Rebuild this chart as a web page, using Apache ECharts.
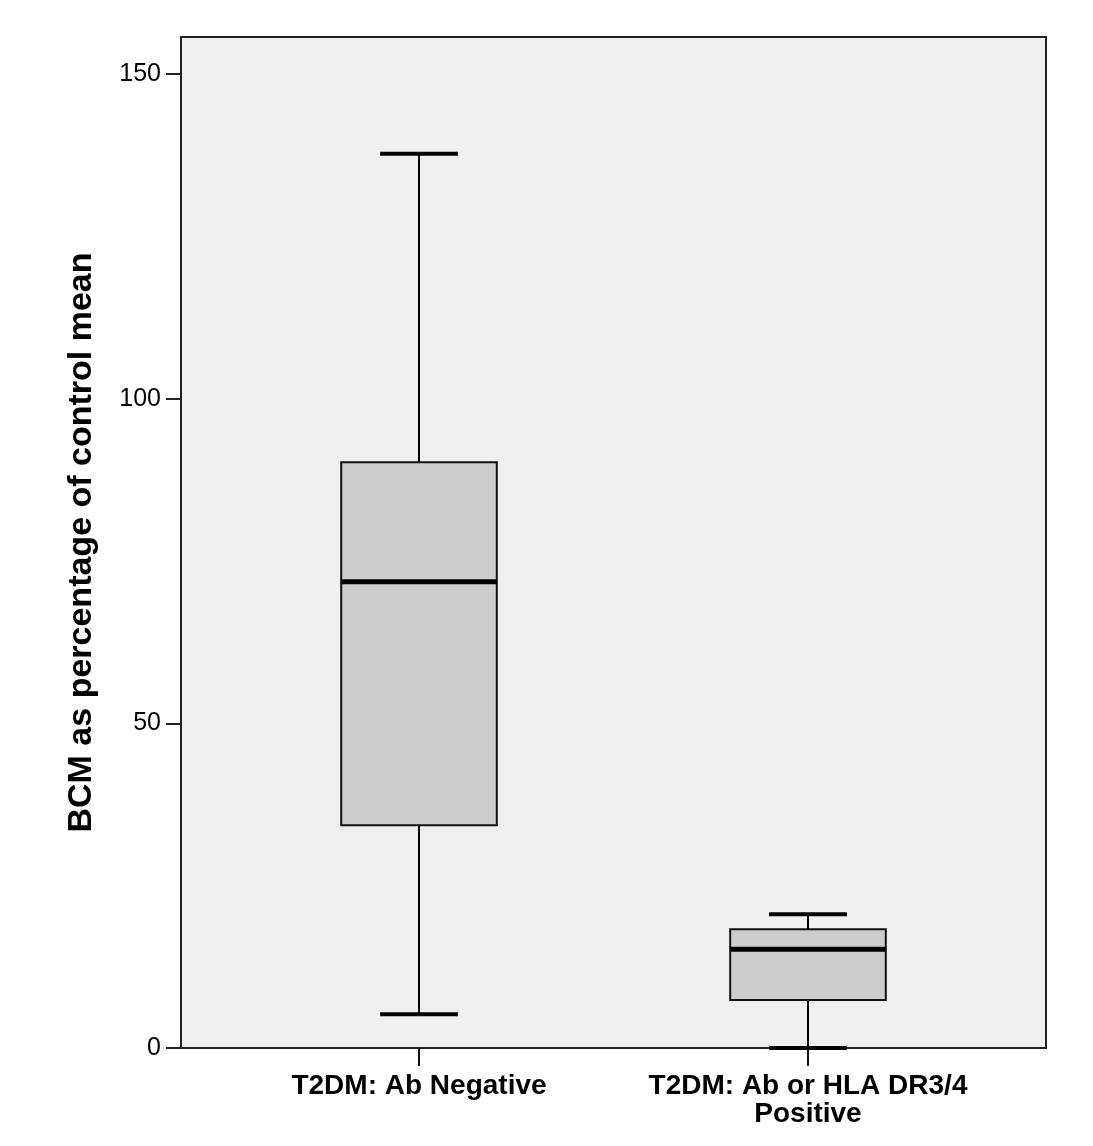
<!DOCTYPE html>
<html>
<head>
<meta charset="utf-8">
<script src="https://cdn.jsdelivr.net/npm/echarts@6/dist/echarts.min.js"></script>
<style>html,body{margin:0;padding:0;background:#fff;}#c{width:1093px;height:1146px;}</style>
</head>
<body>
<div id="c"></div>
<script>
const categories = ['T2DM: Ab Negative', 'T2DM: Ab or HLA DR3/4\nPositive'];
const whiskerLow = [5.2, 0];
const q1Values = [34.3, 7.4];
const medianValues = [71.8, 15.2];
const q3Values = [90.2, 18.3];
const whiskerHigh = [137.7, 20.6];
const yTicks = [0, 50, 100, 150];
const yTitle = 'BCM as percentage of control mean';

const chart = echarts.init(document.getElementById('c'), null, {renderer: 'canvas'});
const boxData = categories.map((c, i) => [i, whiskerLow[i], q1Values[i], medianValues[i], q3Values[i], whiskerHigh[i]]);

const option = {
  backgroundColor: '#ffffff',
  animation: false,
  grid: [
    {left: 181, right: 47, top: 37, bottom: 98, show: true, backgroundColor: '#f0f0f0', borderColor: '#222', borderWidth: 2, z: 0},
    {left: 224.5, right: 90.5, top: 74, bottom: 98, show: false}
  ],
  xAxis: [
    {gridIndex: 0, type: 'category', data: categories, show: false},
    {gridIndex: 1, type: 'category', data: categories, boundaryGap: true,
     axisLine: {show: false},
     axisTick: {show: true, alignWithLabel: true, length: 18, lineStyle: {color: '#111', width: 2}},
     axisLabel: {fontFamily: 'Liberation Sans, Arial, sans-serif', fontWeight: 'bold', fontSize: 28, color: '#000', margin: 24, lineHeight: 28, interval: 0}
    }
  ],
  yAxis: [
    {gridIndex: 0, type: 'value', min: 0, max: 1, show: true,
     name: yTitle, nameLocation: 'middle', nameGap: 82,
     nameTextStyle: {fontFamily: 'Liberation Sans, Arial, sans-serif', fontWeight: 'bold', fontSize: 34, color: '#000'},
     axisLine: {show: false}, axisTick: {show: false}, axisLabel: {show: false}, splitLine: {show: false}},
    {gridIndex: 1, type: 'value', min: yTicks[0], max: yTicks[yTicks.length - 1], interval: 50, offset: 43.5,
     axisLine: {show: false},
     axisTick: {show: true, length: 15, lineStyle: {color: '#222', width: 2}},
     axisLabel: {fontFamily: 'Liberation Sans, Arial, sans-serif', fontSize: 25, color: '#000', margin: 20},
     splitLine: {show: false}
    }
  ],
  series: [{
    type: 'custom',
    xAxisIndex: 1,
    yAxisIndex: 1,
    z: 5,
    data: boxData,
    encode: {x: 0, y: [1, 2, 3, 4, 5]},
    renderItem: function (params, api) {
      const idx = api.value(0);
      const band = api.size([1, 0])[0];
      const bw = band * 0.4;
      const cw = band * 0.2;
      const pLow = api.coord([idx, api.value(1)]);
      const pQ1 = api.coord([idx, api.value(2)]);
      const pMed = api.coord([idx, api.value(3)]);
      const pQ3 = api.coord([idx, api.value(4)]);
      const pHigh = api.coord([idx, api.value(5)]);
      const x = pQ1[0];
      const line = (x1, y1, x2, y2, w) => ({type: 'line', shape: {x1, y1, x2, y2}, style: {stroke: '#000', lineWidth: w}});
      return {type: 'group', children: [
        line(x, pHigh[1], x, pQ3[1], 2),
        line(x, pQ1[1], x, pLow[1], 2),
        line(x - cw / 2, pHigh[1], x + cw / 2, pHigh[1], 4),
        line(x - cw / 2, pLow[1], x + cw / 2, pLow[1], 4),
        {type: 'rect', shape: {x: x - bw / 2, y: pQ3[1], width: bw, height: pQ1[1] - pQ3[1]},
         style: {fill: '#cdcdcd', stroke: '#111', lineWidth: 2}},
        line(x - bw / 2, pMed[1], x + bw / 2, pMed[1], 5)
      ]};
    }
  }]
};
chart.setOption(option);
</script>
</body>
</html>
